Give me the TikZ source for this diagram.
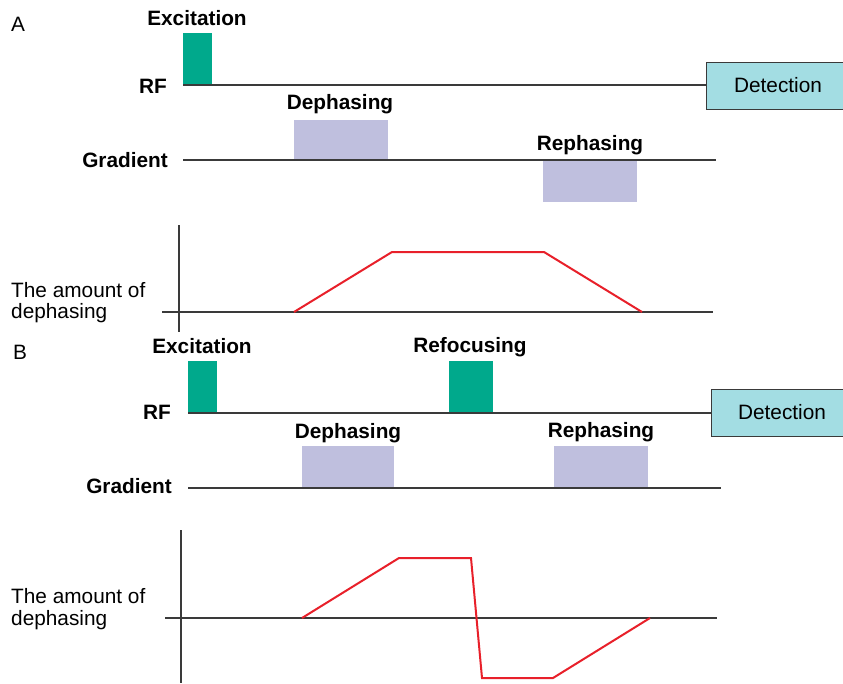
\documentclass[tikz,border=0pt]{standalone}
\usepackage{fontspec}
\setmainfont{Liberation Sans}
\definecolor{pulsegreen}{HTML}{00A98C}
\definecolor{gradlav}{HTML}{BFBFDE}
\definecolor{detcyan}{HTML}{A3DDE3}
\definecolor{axisgrey}{HTML}{3A3A3A}
\definecolor{curvered}{HTML}{E8202A}
\tikzset{
  lbl/.style={font=\fontsize{20.8}{24}\selectfont\bfseries, inner sep=0pt},
  txt/.style={font=\fontsize{20.8}{24}\selectfont, inner sep=0pt},
  rfpulse/.style={fill=pulsegreen, draw=none, inner sep=0pt, anchor=south west},
  gradpulse/.style={fill=gradlav, draw=none, inner sep=0pt},
  detbox/.style={fill=detcyan, draw=axisgrey, line width=0.9pt, inner sep=0pt, anchor=north west},
  baseline/.style={draw=axisgrey, line width=1.3pt},
  axisline/.style={draw=axisgrey, line width=1.1pt},
  curve/.style={draw=curvered, line width=2pt, line join=miter}
}
\begin{document}
\begin{tikzpicture}[x=1pt,y=-1pt]
\useasboundingbox (0,0) rectangle (843,683);
\fill[white] (0,0) rectangle (843,683);

% ================= Panel A =================
\node[txt] (labA) at (18,24) {A};
\node[rfpulse, minimum width=29pt, minimum height=52pt] (excA) at (183,85) {};
\node[lbl] (excAt) at (197,18) {Excitation};
\node[lbl, anchor=east] (rfA) at (167,86) {RF};
\node[detbox, minimum width=140pt, minimum height=47pt] (detA) at (706,62) {};
\node[txt] (detAt) at (778,85) {Detection};
\coordinate (rfA0) at (183,85);
\draw[baseline] (rfA0) -- (detA.west |- rfA0);

\node[lbl, anchor=east] (gradA) at (168,160) {Gradient};
\coordinate (gA0) at (183,160);
\coordinate (gA1) at (716,160);
\node[gradpulse, minimum width=94pt, minimum height=41pt, anchor=south west] (depA) at (294,161) {};
\node[gradpulse, minimum width=94pt, minimum height=41pt, anchor=north west] (repA) at (543,161) {};
\draw[baseline] (gA0) -- (gA1);
\node[lbl] (depAt) at (340,104) {Dephasing};
\node[lbl] (repAt) at (590,145) {Rephasing};

% plot A
\coordinate (vA0) at (179,225);
\coordinate (vA1) at (179,332);
\coordinate (hA0) at (162,312);
\coordinate (hA1) at (713,312);
\draw[axisline] (vA0) -- (vA1);
\draw[axisline] (hA0) -- (hA1);
\coordinate (cA1) at (294,312);
\coordinate (cA2) at (392,252);
\coordinate (cA3) at (544,252);
\coordinate (cA4) at (642,312);
\draw[curve] (cA1) -- (cA2) -- (cA3) -- (cA4);
\node[txt, anchor=west] (amtA1) at (11,290) {The amount of};
\node[txt, anchor=west] (amtA2) at (11,313) {dephasing};

% ================= Panel B =================
\node[txt] (labB) at (20,352) {B};
\node[rfpulse, minimum width=29pt, minimum height=52pt] (excB) at (188,413) {};
\node[lbl] (excBt) at (202,346) {Excitation};
\node[rfpulse, minimum width=44pt, minimum height=52pt] (refB) at (449,413) {};
\node[lbl] (refBt) at (470,347) {Refocusing};
\node[lbl, anchor=east] (rfB) at (171,412) {RF};
\node[detbox, minimum width=135pt, minimum height=47pt] (detB) at (711,389) {};
\node[txt] (detBt) at (782,412) {Detection};
\coordinate (rfB0) at (188,413);
\draw[baseline] (rfB0) -- (detB.west |- rfB0);

\node[lbl, anchor=east] (gradB) at (172,486) {Gradient};
\coordinate (gB0) at (188,488);
\coordinate (gB1) at (721,488);
\node[gradpulse, minimum width=92pt, minimum height=42pt, anchor=south west] (depB) at (302,488) {};
\node[gradpulse, minimum width=94pt, minimum height=42pt, anchor=south west] (repB) at (554,488) {};
\draw[baseline] (gB0) -- (gB1);
\node[lbl] (depBt) at (348,433) {Dephasing};
\node[lbl] (repBt) at (601,432) {Rephasing};

% plot B
\coordinate (vB0) at (181,530);
\coordinate (vB1) at (181,683);
\coordinate (hB0) at (165,618);
\coordinate (hB1) at (717,618);
\draw[axisline] (vB0) -- (vB1);
\draw[axisline] (hB0) -- (hB1);
\coordinate (cB1) at (302,618);
\coordinate (cB2) at (399,558);
\coordinate (cB3) at (471,558);
\coordinate (cB4) at (482,678);
\coordinate (cB5) at (553,678);
\coordinate (cB6) at (650,618);
\draw[curve] (cB1) -- (cB2) -- (cB3) -- (cB4) -- (cB5) -- (cB6);
\node[txt, anchor=west] (amtB1) at (11,596) {The amount of};
\node[txt, anchor=west] (amtB2) at (11,620) {dephasing};
\end{tikzpicture}
\end{document}
